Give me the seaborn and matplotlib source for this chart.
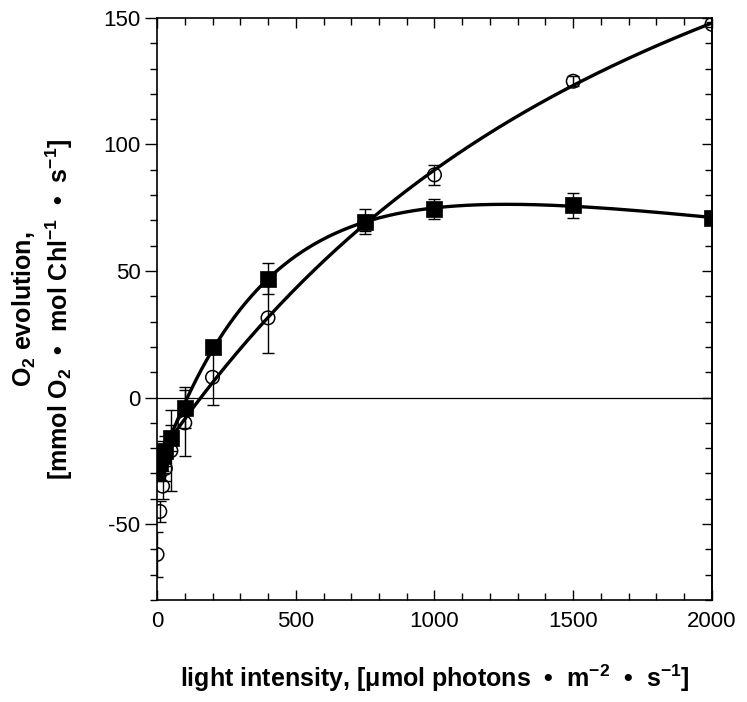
import numpy as np
import pandas as pd
import matplotlib
matplotlib.use("Agg")
import matplotlib.pyplot as plt
import seaborn as sns
from matplotlib.ticker import MultipleLocator

# light intensities, umol photons m-2 s-1
light = [0, 10, 20, 30, 50, 100, 200, 400, 750, 1000, 1500, 2000]

# open circles
circle_o2 = [-62, -45, -35, -28, -21, -10, 8, 31.5, 69, 88, 125, 147.5]
circle_err = [9, 4, 5, 5, 16, 13, 11, 14, 3, 4, 2, 1]

# filled squares
square_o2 = [-30, -26, -23, -21, -16, -4, 20, 47, 69.5, 74.5, 76, 71]
square_err = [3, 5, 6, 6, 5, 8, 2, 6, 5, 4, 5, 2]


def fit_curve(x, y, xs, xmin=0):
    """Least squares fit of y = a*(1-exp(-k x)) + b*x + c, scanning k."""
    x = np.asarray(x, float)
    y = np.asarray(y, float)
    keep = x >= xmin
    x, y = x[keep], y[keep]
    best = None
    for k in np.linspace(0.0002, 0.02, 400):
        X = np.column_stack([1 - np.exp(-k * x), x, np.ones_like(x)])
        coef, *_ = np.linalg.lstsq(X, y, rcond=None)
        sse = np.sum((X @ coef - y) ** 2)
        if best is None or sse < best[0]:
            best = (sse, k, coef)
    _, k, coef = best
    return coef[0] * (1 - np.exp(-k * xs)) + coef[1] * xs + coef[2]


sns.set_theme(style="ticks")
plt.rcParams["font.family"] = ["Liberation Sans", "DejaVu Sans"]
plt.rcParams["mathtext.fontset"] = "custom"
plt.rcParams["mathtext.rm"] = "Liberation Sans:bold"
plt.rcParams["mathtext.bf"] = "Liberation Sans:bold"
plt.rcParams["mathtext.default"] = "bf"
plt.rcParams["axes.unicode_minus"] = False
plt.rcParams["text.color"] = "black"
plt.rcParams["axes.labelcolor"] = "black"
plt.rcParams["xtick.color"] = "black"
plt.rcParams["ytick.color"] = "black"

fig = plt.figure(figsize=(7.47, 7.02), dpi=100)
ax = fig.add_axes([0.2102, 0.1453, 0.7429, 0.8291])

xs = np.linspace(0, 2000, 400)
curves = pd.DataFrame({
    "x": np.concatenate([xs, xs]),
    "y": np.concatenate([fit_curve(light, circle_o2, xs, xmin=100),
                         fit_curve(light, square_o2, xs)]),
    "series": ["circle"] * len(xs) + ["square"] * len(xs),
})
sns.lineplot(data=curves, x="x", y="y", units="series", estimator=None,
             color="black", linewidth=2.4, ax=ax, legend=False)

ax.axhline(0, color="black", linewidth=0.9, zorder=1)

ax.errorbar(light, circle_o2, yerr=circle_err, fmt="none", ecolor="black",
            elinewidth=1.0, capsize=4, capthick=1.0, zorder=3)
ax.errorbar(light, square_o2, yerr=square_err, fmt="none", ecolor="black",
            elinewidth=1.0, capsize=4, capthick=1.0, zorder=3)

sns.scatterplot(x=light, y=square_o2, marker="s", s=120, color="black",
                edgecolor="black", linewidth=0.5, ax=ax, zorder=4)
sns.scatterplot(x=light, y=circle_o2, marker="o", s=95, facecolor="none",
                edgecolor="black", linewidth=1.1, ax=ax, zorder=5)

ax.set_xlim(0, 2000)
ax.set_ylim(-80, 150)
ax.xaxis.set_major_locator(MultipleLocator(500))
ax.xaxis.set_minor_locator(MultipleLocator(100))
ax.yaxis.set_major_locator(MultipleLocator(50))
ax.yaxis.set_minor_locator(MultipleLocator(10))

for side in ["left", "right", "top", "bottom"]:
    ax.spines[side].set_visible(True)
    ax.spines[side].set_linewidth(1.2)
    ax.spines[side].set_color("black")

ax.tick_params(axis="x", which="major", direction="in", length=7, width=1.0,
               labelsize=16, pad=8, colors="black", top=True)
ax.tick_params(axis="x", which="minor", direction="in", length=5, width=1.0,
               colors="black", top=True)
ax.tick_params(axis="y", which="major", direction="out", length=9, width=1.0,
               labelsize=16, pad=3, colors="black", right=False)
ax.tick_params(axis="y", which="minor", direction="out", length=5, width=1.0,
               colors="black", right=False)

right = ax.secondary_yaxis("right")
right.yaxis.set_major_locator(MultipleLocator(50))
right.yaxis.set_minor_locator(MultipleLocator(10))
right.tick_params(which="major", direction="in", length=7, width=1.0,
                  colors="black", labelright=False)
right.tick_params(which="minor", direction="in", length=5, width=1.0, colors="black")
right.spines["right"].set_linewidth(1.2)
right.spines["right"].set_color("black")

ax.set_xlabel("light intensity, [μmol photons  •  m$^{-2}$  •  s$^{-1}$]",
              fontsize=18, fontweight="bold", labelpad=22, color="black")
ax.set_ylabel("O$_2$ evolution,\n[mmol O$_2$  •  mol Chl$^{-1}$  •  s$^{-1}$]",
              fontsize=18, fontweight="bold", labelpad=20, linespacing=1.25,
              color="black")

fig.savefig("out.png", dpi=100)
